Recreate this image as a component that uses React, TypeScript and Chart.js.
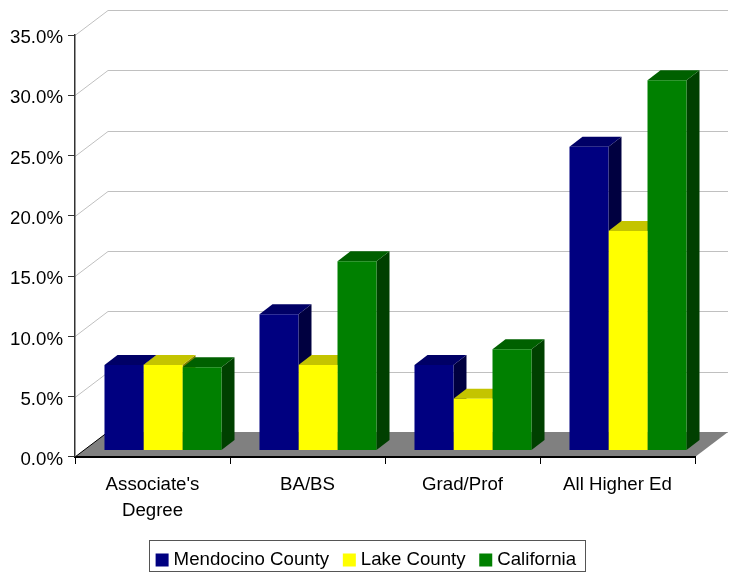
import React, { useEffect, useRef } from "react";
import { Chart, registerables } from "chart.js";

Chart.register(...registerables);

const categories: (string | string[])[] = [["Associate's", "Degree"], "BA/BS", "Grad/Prof", "All Higher Ed"];
const mendocino = [7.1, 11.3, 7.1, 25.2];
const lake = [7.1, 7.1, 4.3, 18.2];
const california = [6.9, 15.7, 8.4, 30.7];
const seriesNames = ["Mendocino County", "Lake County", "California"];
const frontColors = ["#000080", "#ffff00", "#008000"];
const topColors = ["#000066", "#c4c400", "#006000"];
const sideColors = ["#000040", "#808000", "#004000"];

const FONT = "'Liberation Sans', Arial, sans-serif";
const FONT_SIZE = 18.67;
const WALL_DX = 33;
const WALL_DY = -25;
const BAR_DX = 10.5;
const BAR_DY = -6.5;
const DEPTH_DX = 13;
const DEPTH_DY = -10;
const LEGEND_SHIFT_X = 20.5;
const LEGEND_SHIFT_Y = -3;

const poly = (ctx: CanvasRenderingContext2D, pts: number[][], fill: string) => {
  ctx.beginPath();
  pts.forEach(([x, y], i) => (i ? ctx.lineTo(x, y) : ctx.moveTo(x, y)));
  ctx.closePath();
  ctx.fillStyle = fill;
  ctx.fill();
};

const threeD = {
  id: "threeD",
  afterLayout(chart: any) {
    const lg = chart.legend;
    lg.left += LEGEND_SHIFT_X;
    lg.right += LEGEND_SHIFT_X;
    lg.top += LEGEND_SHIFT_Y;
    lg.bottom += LEGEND_SHIFT_Y;
  },
  beforeDraw(chart: any) {
    const { ctx, chartArea: a, scales } = chart;
    const y = scales.y;
    ctx.save();
    ctx.strokeStyle = "#c0c0c0";
    ctx.lineWidth = 1;
    y.ticks.forEach((t: any) => {
      const py = Math.round(y.getPixelForValue(t.value)) + 0.5;
      ctx.beginPath();
      ctx.moveTo(a.left, py);
      ctx.lineTo(a.left + WALL_DX, py + WALL_DY);
      ctx.lineTo(a.right + WALL_DX, py + WALL_DY);
      ctx.stroke();
    });
    poly(
      ctx,
      [
        [a.left, a.bottom],
        [a.left + WALL_DX, a.bottom + WALL_DY],
        [a.right + WALL_DX, a.bottom + WALL_DY],
        [a.right, a.bottom],
      ],
      "#808080"
    );
    ctx.strokeStyle = "#000";
    ctx.beginPath();
    ctx.moveTo(a.left, a.bottom);
    ctx.lineTo(a.left + WALL_DX, a.bottom + WALL_DY);
    ctx.stroke();
    ctx.restore();
  },
  beforeDatasetsDraw(chart: any) {
    const ctx = chart.ctx;
    ctx.save();
    ctx.translate(BAR_DX, BAR_DY);
    const metas = chart.data.datasets.map((_: any, i: number) => chart.getDatasetMeta(i));
    categories.forEach((_, c) => {
      metas.forEach((meta: any, d: number) => {
        const bar = meta.data[c];
        const l = bar.x - bar.width / 2;
        const r = bar.x + bar.width / 2;
        const t = bar.y;
        const b = bar.base;
        poly(ctx, [[r, t], [r + DEPTH_DX, t + DEPTH_DY], [r + DEPTH_DX, b + DEPTH_DY], [r, b]], sideColors[d]);
        poly(ctx, [[l, t], [l + DEPTH_DX, t + DEPTH_DY], [r + DEPTH_DX, t + DEPTH_DY], [r, t]], topColors[d]);
      });
    });
  },
  afterDatasetsDraw(chart: any) {
    chart.ctx.restore();
    const lg = chart.legend;
    const ctx = chart.ctx;
    const hits = lg.legendHitBoxes;
    const first = hits[0];
    const last = hits[hits.length - 1];
    ctx.save();
    ctx.strokeStyle = "#555";
    ctx.lineWidth = 1;
    ctx.strokeRect(
      Math.round(first.left - 11) + 0.5,
      Math.round(lg.top + 7) + 0.5,
      Math.round(last.left + last.width - first.left + 20),
      31
    );
    ctx.restore();
  },
};

export default function App() {
  const ref = useRef<HTMLCanvasElement>(null);
  useEffect(() => {
    const chart = new Chart(ref.current!, {
      type: "bar",
      data: {
        labels: categories as any,
        datasets: [mendocino, lake, california].map((data, i) => ({
          label: seriesNames[i],
          data,
          backgroundColor: frontColors[i],
          borderWidth: 0,
          categoryPercentage: 0.755,
          barPercentage: 1,
          clip: false as any,
        })),
      },
      options: {
        animation: false,
        responsive: false,
        layout: { padding: { top: 35, right: 38, left: 0, bottom: -9.33 } },
        plugins: {
          tooltip: { enabled: false },
          legend: {
            position: "bottom",
            labels: {
              boxWidth: 4.33,
              boxHeight: 4.33,
              padding: 18,
              color: "#000",
              font: { family: FONT, size: FONT_SIZE },
              generateLabels: (c: any) =>
                c.data.datasets.map((ds: any, i: number) => ({
                  text: ds.label,
                  fillStyle: frontColors[i],
                  strokeStyle: frontColors[i],
                  lineWidth: 8.67,
                  datasetIndex: i,
                })),
            },
          },
        },
        scales: {
          x: {
            afterFit: (s: any) => {
              s.height = 78.67;
            },
            grid: { drawOnChartArea: false, color: "#000", tickLength: 7, offset: true },
            border: { color: "#000", width: 2 },
            ticks: {
              color: "#000",
              maxRotation: 0,
              autoSkip: false,
              padding: 8,
              font: { family: FONT, size: FONT_SIZE, lineHeight: 1.39 },
            },
          },
          y: {
            min: 0,
            max: 35,
            afterFit: (s: any) => {
              s.width = 75;
            },
            grid: { drawOnChartArea: false, color: "#333", tickLength: 7 },
            border: { color: "#333", width: 1.5 },
            ticks: {
              stepSize: 5,
              color: "#000",
              padding: 5,
              labelOffset: 3,
              font: { family: FONT, size: FONT_SIZE },
              callback: (v: any) => Number(v).toFixed(1) + "%",
            },
          },
        },
      },
      plugins: [threeD],
    } as any);
    return () => chart.destroy();
  }, []);
  return (
    <canvas
      ref={ref}
      width={733}
      height={573}
      style={{ position: "fixed", left: 0, top: 0, width: 733, height: 573, display: "block" }}
    />
  );
}
